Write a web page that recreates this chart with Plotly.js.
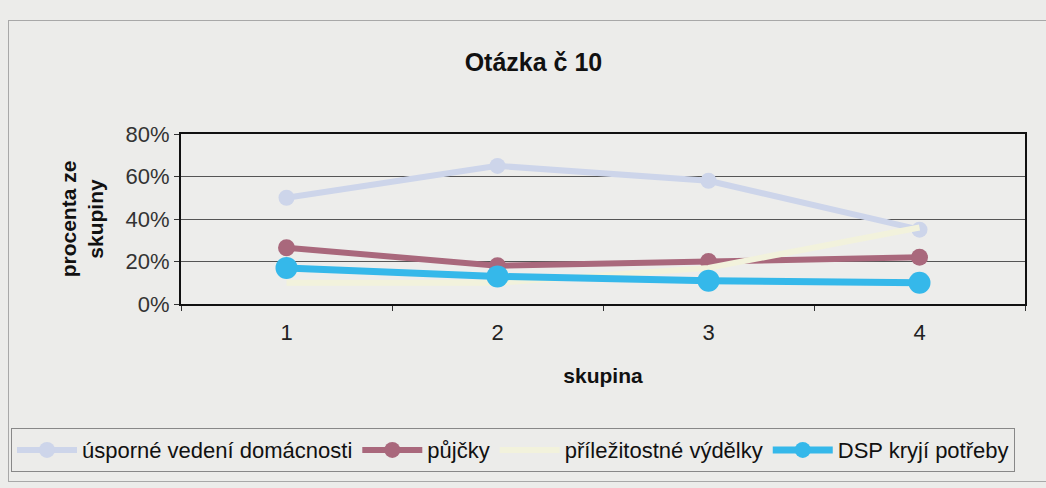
<!DOCTYPE html>
<html>
<head>
<meta charset="utf-8">
<script src="https://cdn.plot.ly/plotly-3.0.1.min.js"></script>
<style>
  html, body { margin: 0; padding: 0; background: #ececea; }
  #frame { position: absolute; left: 8px; top: 20px; width: 1040px; height: 460px; border: 1px solid #a8a8a8; border-right: none; }
  #chart { position: absolute; left: 0; top: 0; width: 1046px; height: 488px; }
</style>
</head>
<body>
<div id="frame"></div>
<div id="chart"></div>
<script>
const categories = ['1', '2', '3', '4'];
const seriesNames = ['úsporné vedení domácnosti', 'půjčky', 'příležitostné výdělky', 'DSP kryjí potřeby'];
const usporne = [50, 65, 58, 35];
const pujcky = [26.5, 18, 20, 22];
const prilezitostne = [10, 10, 17, 36];
const dsp = [17, 13, 11, 10];
const yTicks = [0, 20, 40, 60, 80];
const yTickLabels = ['0%', '20%', '40%', '60%', '80%'];

const font = 'Arial, "Liberation Sans", sans-serif';

const traces = [
  { x: categories, y: usporne, name: seriesNames[0], type: 'scatter', mode: 'lines+markers',
    line: { color: '#cdd5ea', width: 6 }, marker: { color: '#cdd5ea', size: 16 } },
  { x: categories, y: pujcky, name: seriesNames[1], type: 'scatter', mode: 'lines+markers',
    line: { color: '#a9687c', width: 6 }, marker: { color: '#a9687c', size: 17 } },
  { x: categories, y: prilezitostne, name: seriesNames[2], type: 'scatter', mode: 'lines',
    line: { color: '#f2f2dc', width: 6 } },
  { x: categories, y: dsp, name: seriesNames[3], type: 'scatter', mode: 'lines+markers',
    line: { color: '#35b8ea', width: 7 }, marker: { color: '#35b8ea', size: 22 } }
];

const layout = {
  width: 1046, height: 488,
  paper_bgcolor: 'rgba(0,0,0,0)',
  plot_bgcolor: '#ededeb',
  margin: { l: 180, r: 21, t: 134, b: 184 },
  font: { family: font, color: '#222', size: 22 },
  title: { text: '<b>Otázka č 10</b>', x: 0.51, xref: 'container', xanchor: 'center', y: 0.873, yanchor: 'middle',
    font: { family: font, size: 25, color: '#111' } },
  xaxis: {
    type: 'category', range: [-0.5, 3.5], tickson: 'boundaries', ticks: 'outside', ticklen: 5, tickcolor: '#333',
    showline: true, linecolor: '#111', linewidth: 2, mirror: true, showgrid: false,
    tickfont: { size: 22, color: '#222' }, ticklabelstandoff: 8,
    title: { text: '<b>skupina</b>', font: { size: 21, color: '#111' }, standoff: 24 }
  },
  yaxis: {
    range: [0, 80], tickvals: yTicks, ticktext: yTickLabels, ticks: 'outside', ticklen: 5, tickcolor: '#333',
    showline: true, linecolor: '#111', linewidth: 2, mirror: true,
    showgrid: true, gridcolor: '#555', gridwidth: 1, zeroline: false,
    tickfont: { size: 22, color: '#333' },
    title: { text: '<b>procenta ze<br>skupiny</b>', font: { size: 21, color: '#111' }, standoff: 16 }
  },
  showlegend: true,
  legend: {
    orientation: 'h', x: -0.2, xanchor: 'left', y: -0.73, yanchor: 'top',
    bordercolor: '#888', borderwidth: 1, bgcolor: 'rgba(0,0,0,0)',
    font: { size: 22, color: '#111' }, itemwidth: 60, tracegroupgap: 0
  }
};

Plotly.newPlot('chart', traces, layout, { displayModeBar: false, staticPlot: true });
</script>
</body>
</html>
